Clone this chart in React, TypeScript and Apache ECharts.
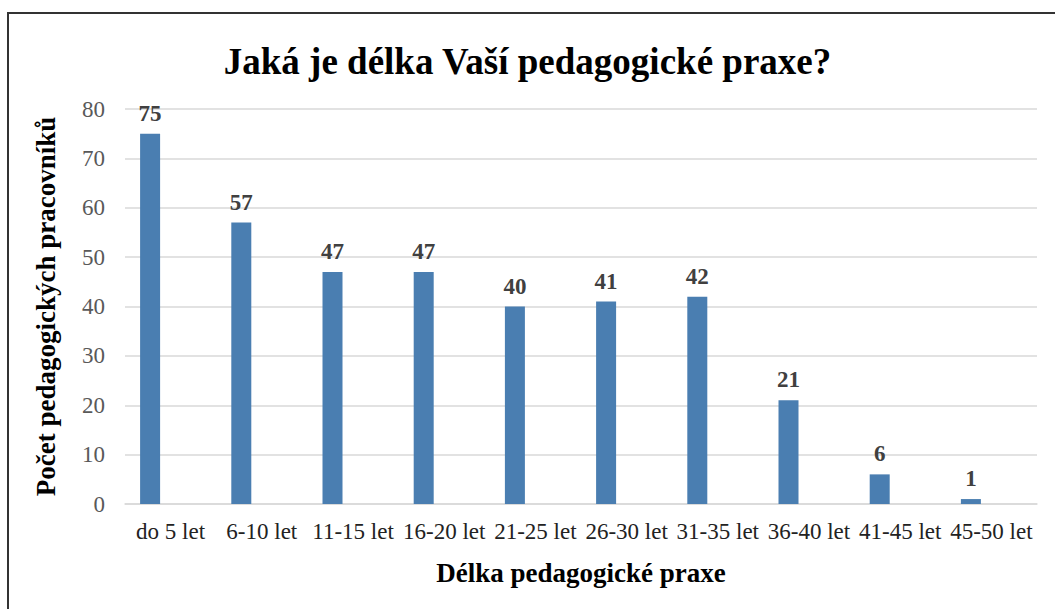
import React, { useEffect, useRef } from "react";
import * as echarts from "echarts";

const categories = [
  "do 5 let",
  "6-10 let",
  "11-15 let",
  "16-20 let",
  "21-25 let",
  "26-30 let",
  "31-35 let",
  "36-40 let",
  "41-45 let",
  "45-50 let",
];
const values = [75, 57, 47, 47, 40, 41, 42, 21, 6, 1];
const emptySeries = [null, null, null, null, null, null, null, null, null, null];

const SERIF = "'Liberation Serif', 'Times New Roman', serif";

export default function App() {
  const ref = useRef<HTMLDivElement>(null);
  useEffect(() => {
    if (!ref.current) return;
    const chart = echarts.init(ref.current, null, { renderer: "svg" });
    chart.setOption({
      animation: false,
      backgroundColor: "#ffffff",
      title: {
        text: "Jaká je délka Vaší pedagogické praxe?",
        left: "center",
        top: 38,
        textStyle: { fontFamily: SERIF, fontWeight: "bold", fontSize: 37, color: "#000" },
      },
      graphic: [
        {
          type: "rect",
          shape: { x: 8, y: 13, width: 1060, height: 610 },
          style: { fill: "none", stroke: "#333", lineWidth: 2 },
        },
      ],
      grid: { left: 125, right: 18, top: 109, bottom: 105 },
      xAxis: {
        type: "category",
        data: categories,
        axisLine: { show: true, lineStyle: { color: "#d9d9d9", width: 1.5 } },
        axisTick: { show: false },
        axisLabel: { fontFamily: SERIF, fontSize: 23, color: "#222", margin: 16, interval: 0 },
        name: "Délka pedagogické praxe",
        nameLocation: "middle",
        nameGap: 55,
        nameTextStyle: { fontFamily: SERIF, fontWeight: "bold", fontSize: 27, color: "#000" },
      },
      yAxis: {
        type: "value",
        min: 0,
        max: 80,
        interval: 10,
        axisLine: { show: false },
        axisTick: { show: false },
        splitLine: { lineStyle: { color: "#d9d9d9", width: 1.5 } },
        axisLabel: { fontFamily: SERIF, fontSize: 23, color: "#595959", margin: 20 },
        name: "Počet pedagogických pracovníků",
        nameLocation: "middle",
        nameGap: 66,
        nameTextStyle: { fontFamily: SERIF, fontWeight: "bold", fontSize: 27, color: "#000" },
      },
      series: [
        {
          type: "bar",
          data: values,
          barWidth: 20,
          barGap: "105%",
          itemStyle: { color: "#4a7eb1" },
          label: {
            show: true,
            position: "top",
            distance: 9,
            fontFamily: SERIF,
            fontWeight: "bold",
            fontSize: 23,
            color: "#404040",
          },
        },
        {
          type: "bar",
          data: emptySeries,
          barWidth: 20,
          itemStyle: { color: "#e07a3a" },
        },
      ],
    });
    return () => chart.dispose();
  }, []);
  return (
    <div
      ref={ref}
      style={{ position: "fixed", left: 0, top: 0, width: 1055, height: 609 }}
    />
  );
}
